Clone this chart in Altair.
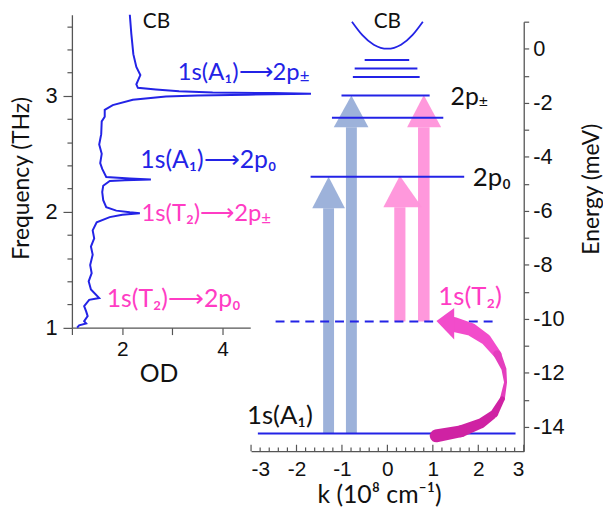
import altair as alt
import pandas as pd

# ---------------- data ----------------
# Left panel: absorption spectrum (frequency in THz, optical density), traced top -> bottom
spec_thz = [3.70, 3.535, 3.36, 3.25, 3.18, 3.10, 3.07, 3.056, 3.04, 3.03, 3.024, 3.018,
            3.010, 3.004, 2.995, 2.966, 2.92, 2.88, 2.82, 2.78, 2.67, 2.58, 2.50, 2.42,
            2.37, 2.30, 2.287, 2.279, 2.272, 2.265, 2.225, 2.17, 2.10, 2.04, 2.01, 1.995,
            1.987, 1.975, 1.954, 1.91, 1.84, 1.77, 1.70, 1.63, 1.54, 1.47, 1.40, 1.33,
            1.256, 1.24, 1.185, 1.14, 1.10, 1.056, 1.037, 1.02, 1.0]
spec_od = [2.15, 2.18, 2.22, 2.28, 2.36, 2.28, 2.31, 2.67, 3.13, 3.8, 5.0, 5.76,
           4.5, 3.5, 2.87, 2.21, 1.81, 1.65, 1.65, 1.59, 1.58, 1.54, 1.59, 1.56,
           1.60, 1.68, 2.15, 2.57, 2.05, 1.75, 1.62, 1.60, 1.62, 1.68, 1.88, 2.15,
           2.35, 2.0, 1.75, 1.49, 1.41, 1.44, 1.375, 1.41, 1.36, 1.39, 1.33, 1.375,
           1.54, 1.34, 1.24, 1.28, 1.31, 1.24, 1.28, 1.14, 1.10]

# Right panel: energy levels (meV) and their k extent (1e8 cm^-1)
level_E = [-0.42, -0.73, -1.05, -1.73, -2.56, -4.74, -14.24]
level_k0 = [-0.50, -0.72, -0.76, -1.01, -1.22, -1.69, -2.85]
level_k1 = [0.48, 0.66, 0.71, 0.93, 1.23, 1.69, 2.82]
dash_E = [-10.1]
dash_k0 = [-2.46]
dash_k1 = [2.34]

# conduction band parabola
cb_k = [-0.78, -0.55, -0.30, 0.0, 0.30, 0.55, 0.78]
cb_E = [1.0, 0.50, 0.15, 0.0, 0.15, 0.50, 1.0]

# straight transition arrows
arrow_kind = ["A", "A", "T", "T"]
shaft_k0 = [-1.414, -0.912, 0.151, 0.674]
shaft_k1 = [-1.174, -0.672, 0.397, 0.928]
shaft_E0 = [-14.24, -14.24, -10.1, -10.1]
head_E0 = [-5.91, -2.905, -5.87, -2.905]
head_k0 = [-1.654, -1.18, -0.089, 0.434]
head_k1 = [-0.934, -0.417, 0.762, 1.183]
tip_E = [-4.74, -1.73, -4.70, -1.71]

# curved relaxation arrow (centre line + width in px), in colour segments
curve_seg = [0, 0, 0, 0, 1, 1, 1, 1, 2, 2, 2, 2]
curve_k = [1.473, 1.838, 2.165, 2.42, 2.42, 2.564, 2.60, 2.53, 2.53, 2.35, 2.056, 1.62]
curve_E = [-10.21, -10.39, -10.76, -11.31, -11.31, -11.86, -12.35, -12.96, -12.96, -13.51, -13.87, -14.16]
curve_w = [15, 13, 11, 8, 8, 5, 3, 5, 5, 8, 10, 12]
curve_tail_k = [1.62, 1.074]
curve_tail_E = [-14.16, -14.33]
curve_tail_w = [12, 13]
seg_colors = ["#f24ccb", "#e43ebd", "#cf22a3"]
chead_k = [1.08, 1.47]
chead_top = [-10.08, -9.6]
chead_bot = [-10.08, -10.76]

# axis ticks
thz_ticks = [1.0, 1.2, 1.4, 1.6, 1.8, 2.0, 2.2, 2.4, 2.6, 2.8, 3.0, 3.2, 3.4, 3.6]
od_ticks = [1, 2, 3, 4]
k_labels = [-3, -2, -1, 0, 1, 2, 3]
k_ticks = [-3.0, -2.8, -2.6, -2.4, -2.2, -2.0, -1.8, -1.6, -1.4, -1.2, -1.0, -0.8, -0.6,
           -0.4, -0.2, 0.0, 0.2, 0.4, 0.6, 0.8, 1.0, 1.2, 1.4, 1.6, 1.8, 2.0, 2.2, 2.4,
           2.6, 2.8, 3.0]
E_ticks = [-14, -13, -12, -11, -10, -9, -8, -7, -6, -5, -4, -3, -2, -1, 0, 1]

# ---------------- styling ----------------
W, H = 456, 440.5
BLUE = "#2323e6"
PINK = "#ff3cc4"
BLACK = "#111111"
ARROW_BLUE = "#98aed8"
ARROW_PINK = "#ff92da"
FONT = "Lato"
TFONT = "Liberation Sans"
E_MIN, E_MAX = -14.9, 1.0

od_scale = alt.Scale(domain=[1, 4.55], range=[0.2, 180.0], nice=False, zero=False)
thz_scale = alt.Scale(domain=[1, 3.7], range=[315.8, 0], nice=False, zero=False)
k_scale = alt.Scale(domain=[-3, 3], range=[180.8, 456], nice=False, zero=False)
E_scale = alt.Scale(domain=[E_MIN, E_MAX], range=[440.5, 7.0], nice=False, zero=False)

axis_common = dict(grid=False, domainColor="#555555", tickColor="#555555", domainWidth=1.3,
                   tickWidth=1.2, labelColor=BLACK, labelFont=TFONT, titleFont=FONT,
                   titleColor=BLACK, titleFontWeight="normal")

ax_od = alt.Axis(orient="bottom", offset=-124.7, values=od_ticks,
                 labelExpr="datum.value == 2 || datum.value == 4 ? toString(datum.value) : ''",
                 tickSize=7, labelPadding=4, labelFontSize=21,
                 title="OD", titleFontSize=25, titleX=87.5, titleY=46, titleAlign="center",
                 titleBaseline="middle", **axis_common)
ax_thz = alt.Axis(orient="left", values=thz_ticks,
                  labelExpr="abs(datum.value - round(datum.value)) < 0.001 ? toString(round(datum.value)) : ''",
                  tickSize={"condition": {"test": "abs(datum.value - round(datum.value)) < 0.001", "value": 9}, "value": 5},
                  labelPadding=6, labelFontSize=22,
                  title="Frequency (THz)", titleFontSize=23, titleAngle=270, titleX=-50.5, titleY=164.5,
                  titleAlign="center", titleBaseline="middle", **axis_common)
ax_k = alt.Axis(orient="bottom", values=k_labels, ticks=False, tickSize=0,
                labelExpr="toString(datum.value)", labelPadding=8, labelFontSize=21,
                title="k (10⁸ cm⁻¹)", titleFontSize=25, titleX=310, titleY=44,
                titleAlign="center", titleBaseline="middle", **axis_common)
ax_E = alt.Axis(orient="right", values=E_ticks,
                labelExpr="datum.value % 2 == 0 ? toString(datum.value) : ''",
                tickSize=5, labelPadding=4, labelFontSize=22,
                title="Energy (meV)", titleFontSize=23, titleAngle=270, titleX=68, titleY=175.5,
                titleAlign="center", titleBaseline="middle", **axis_common)


def LX(f):
    return alt.X(f, type="quantitative", scale=od_scale, axis=ax_od)


def LY(f):
    return alt.Y(f, type="quantitative", scale=thz_scale, axis=ax_thz)


def RX(f):
    return alt.X(f, type="quantitative", scale=k_scale, axis=ax_k)


def RY(f):
    return alt.Y(f, type="quantitative", scale=E_scale, axis=ax_E)


# ---------------- left panel ----------------
spec_df = pd.DataFrame({"i": list(range(len(spec_thz))), "thz": spec_thz, "od": spec_od})
spectrum = alt.Chart(spec_df).mark_line(color=BLUE, strokeWidth=2).encode(
    x=LX("od"), y=LY("thz"), order=alt.Order("i:Q"))

left_cb = pd.DataFrame({"od": [2.41], "thz": [3.64], "t": ["CB"]})
left_text_cb = alt.Chart(left_cb).mark_text(align="left", baseline="middle", font=FONT, fontSize=21,
                                            color=BLACK).encode(x=LX("od"), y=LY("thz"), text="t:N")

left_lab_l = pd.DataFrame({
    "od": [2.36, 1.69],
    "thz": [2.45, 1.25],
    "t": ["1s(A₁)⟶2p₀", "1s(T₂)⟶2p₀"],
    "c": [BLUE, PINK]})
left_text_l = alt.Chart(left_lab_l).mark_text(align="left", baseline="middle", font=FONT, fontSize=25).encode(
    x=LX("od"), y=LY("thz"), text="t:N", color=alt.Color("c:N", scale=None))

left_lab_r = pd.DataFrame({
    "od": [5.534, 4.77],
    "thz": [3.20, 1.977],
    "t": ["1s(A₁)⟶2p", "1s(T₂)⟶2p"],
    "c": [BLUE, PINK]})
left_text_r = alt.Chart(left_lab_r).mark_text(align="right", baseline="middle", font=FONT, fontSize=24).encode(
    x=LX("od"), y=LY("thz"), text="t:N", color=alt.Color("c:N", scale=None))

left_pm = pd.DataFrame({"od": [5.534, 4.77], "thz": [3.16, 1.937], "t": ["±", "±"], "c": [BLUE, PINK]})
left_text_pm = alt.Chart(left_pm).mark_text(align="left", baseline="middle", font=FONT, fontSize=17).encode(
    x=LX("od"), y=LY("thz"), text="t:N", color=alt.Color("c:N", scale=None))

left = alt.layer(spectrum, left_text_cb, left_text_l, left_text_r, left_text_pm)

# ---------------- right panel ----------------
arrow_col = [ARROW_BLUE if a == "A" else ARROW_PINK for a in arrow_kind]
shaft_df = pd.DataFrame({"k0": shaft_k0, "k1": shaft_k1, "e0": shaft_E0, "e1": head_E0, "c": arrow_col})
shafts = alt.Chart(shaft_df).mark_rect(opacity=0.95).encode(
    x=RX("k0"), x2="k1", y=RY("e0"), y2="e1", color=alt.Color("c:N", scale=None))

head_rows = []
for j in range(len(arrow_kind)):
    kc = (shaft_k0[j] + shaft_k1[j]) / 2
    head_rows.append({"id": j, "e": head_E0[j], "ka": head_k0[j], "kb": head_k1[j], "c": arrow_col[j]})
    head_rows.append({"id": j, "e": tip_E[j], "ka": kc, "kb": kc, "c": arrow_col[j]})
head_df = pd.DataFrame(head_rows)
heads = alt.Chart(head_df).mark_area(orient="horizontal", opacity=0.95).encode(
    y=RY("e"), x=RX("ka"), x2="kb", detail="id:N", color=alt.Color("c:N", scale=None))

lvl_df = pd.DataFrame({"k0": level_k0, "k1": level_k1, "e": level_E})
levels = alt.Chart(lvl_df).mark_rule(color=BLUE, strokeWidth=2).encode(
    x=RX("k0"), x2="k1", y=RY("e"))

dash_df = pd.DataFrame({"k0": dash_k0, "k1": dash_k1, "e": dash_E})
dashed = alt.Chart(dash_df).mark_rule(color=BLUE, strokeWidth=2, strokeDash=[9, 6]).encode(
    x=RX("k0"), x2="k1", y=RY("e"))

cb_df = pd.DataFrame({"k": cb_k, "e": cb_E})
cb = alt.Chart(cb_df).mark_line(color=BLUE, strokeWidth=1.8, interpolate="natural").encode(
    x=RX("k"), y=RY("e"))

curve_df = pd.DataFrame({"i": list(range(len(curve_k))), "seg": curve_seg, "k": curve_k, "e": curve_E,
                         "w": curve_w, "c": [seg_colors[s] for s in curve_seg]})
tail_df = pd.DataFrame({"i": [0, 1], "seg": [3, 3], "k": curve_tail_k, "e": curve_tail_E,
                        "w": curve_tail_w, "c": [seg_colors[2]] * 2})
curve = alt.Chart(pd.concat([curve_df, tail_df], ignore_index=True)).mark_trail().encode(
    x=RX("k"), y=RY("e"), size=alt.Size("w:Q", scale=None, legend=None), order=alt.Order("i:Q"),
    detail="seg:N", color=alt.Color("c:N", scale=None))

chead_df = pd.DataFrame({"k": chead_k, "a": chead_top, "b": chead_bot})
chead = alt.Chart(chead_df).mark_area(color=seg_colors[0], orient="vertical").encode(
    x=RX("k"), y=RY("a"), y2="b")

kt_df = pd.DataFrame({"k": k_ticks,
                      "a": [E_MIN] * len(k_ticks),
                      "b": [E_MIN + (0.24 if abs(v - round(v)) < 1e-6 else 0.14) for v in k_ticks]})
kticks = alt.Chart(kt_df).mark_rule(color="#555555", strokeWidth=1.2).encode(
    x=RX("k"), y=RY("a"), y2="b")

rlab_l = pd.DataFrame({
    "k": [1.88, 1.12, -3.09],
    "e": [-4.78, -9.2, -13.6],
    "t": ["2p₀", "1s(T₂)", "1s(A₁)"],
    "c": [BLACK, PINK, BLACK]})
rtext_l = alt.Chart(rlab_l).mark_text(align="left", baseline="middle", font=FONT, fontSize=26).encode(
    x=RX("k"), y=RY("e"), text="t:N", color=alt.Color("c:N", scale=None))

rlab_c = pd.DataFrame({"k": [0.0], "e": [0.97], "t": ["CB"]})
rtext_c = alt.Chart(rlab_c).mark_text(align="center", baseline="middle", font=FONT, fontSize=21, color=BLACK).encode(
    x=RX("k"), y=RY("e"), text="t:N")

rlab_r = pd.DataFrame({"k": [2.012], "e": [-1.80], "t": ["2p"]})
rtext_r = alt.Chart(rlab_r).mark_text(align="right", baseline="middle", font=FONT, fontSize=25, color=BLACK).encode(
    x=RX("k"), y=RY("e"), text="t:N")

rlab_pm = pd.DataFrame({"k": [2.012], "e": [-1.98], "t": ["±"]})
rtext_pm = alt.Chart(rlab_pm).mark_text(align="left", baseline="middle", font=FONT, fontSize=16, color=BLACK).encode(
    x=RX("k"), y=RY("e"), text="t:N")

right = alt.layer(shafts, heads, levels, dashed, cb, curve, chead, kticks,
                  rtext_l, rtext_c, rtext_r, rtext_pm)

chart = alt.layer(left, right).resolve_scale(x="independent", y="independent").properties(
    width=W, height=H,
    autosize=alt.AutoSizeParams(type="none"),
    padding={"left": 64.5, "top": 4.5, "right": 80, "bottom": 57},
).configure_view(strokeWidth=0)

chart.save("out.html", embed_options={"renderer": "svg", "actions": False})
